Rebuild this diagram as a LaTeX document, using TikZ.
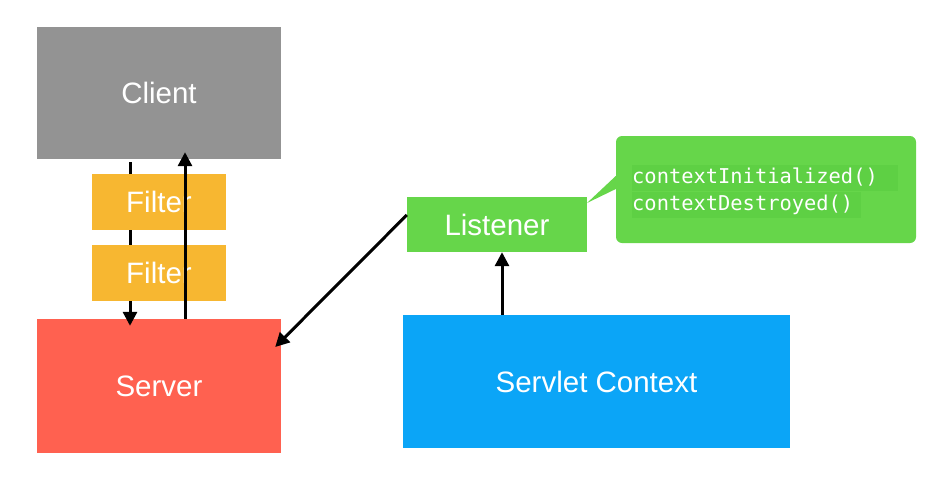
\documentclass[tikz,border=0pt]{standalone}
\usepackage{fontspec}
\setmainfont{Liberation Sans}
\newfontfamily\codefont{DejaVu Sans Mono}
\usetikzlibrary{arrows.meta}
\definecolor{gris}{HTML}{939393}
\definecolor{orange}{HTML}{F7B731}
\definecolor{rouge}{HTML}{FF6150}
\definecolor{vert}{HTML}{66D64A}
\definecolor{vertfonce}{HTML}{5ED044}
\definecolor{bleu}{HTML}{0BA5F7}
\tikzset{
  boite/.style={fill=#1, text=white, inner sep=0pt, font=\fontsize{29.5}{33}\selectfont},
  fleche/.style={line width=3pt, -{Triangle[length=14pt,width=14pt]}},
  code/.style={fill=vertfonce, text=white, inner sep=0pt, anchor=west,
    text height=19pt, text depth=7pt, font=\codefont\fontsize{20.4}{24}\selectfont}
}
\begin{document}
\begin{tikzpicture}[x=1pt,y=-1pt]
   % Cadre de l'image
   \useasboundingbox (0,0) rectangle (952,485);

   % Client et serveur
   \node[boite=gris, minimum width=244pt, minimum height=132pt] (client) at (159,93) {Client};
   \node[boite=rouge, minimum width=244pt, minimum height=134pt] (server) at (159,386) {Server};

   % Requete (sous les filtres)
   \draw[fleche, shorten <=3pt, shorten >=-7pt] ([xshift=-29pt]client.south) -- ([xshift=-29pt]server.north);

   % Filtres
   \node[boite=orange, minimum width=134pt, minimum height=56pt] (filter1) at (159,202) {Filter};
   \node[boite=orange, minimum width=134pt, minimum height=56pt] (filter2) at (159,273) {Filter};

   % Reponse
   \draw[fleche, shorten >=-7pt] ([xshift=26pt]server.north) -- ([xshift=26pt]client.south);

   % Listener et contexte
   \node[boite=vert, minimum width=180pt, minimum height=55pt] (listener) at (497,224.5) {Listener};
   \node[boite=bleu, minimum width=387pt, minimum height=133pt] (servlet) at (596.5,381.5) {Servlet Context};

   % Bulle des methodes
   \node[fill=vert, rounded corners=6pt, minimum width=300pt, minimum height=107pt, inner sep=0pt] (bulle) at (766,189.5) {};
   \coordinate (pointe) at (587,203);
   \fill[vert] ([yshift=0.5pt]bulle.west) ++(1,-14) -- (pointe) -- ([yshift=0.5pt]bulle.west) ++(1,13) -- cycle;
   \node[code] (init) at (632,177.5) {\makebox[266pt][l]{contextInitialized()}};
   \node[code] (destroy) at (632,204.5) {\makebox[229pt][l]{contextDestroyed()}};

   % Fleches du listener
   \draw[fleche] ([yshift=9.5pt]listener.west) -- ([xshift=-6pt,yshift=39pt]server.east);
   \draw[fleche] ([xshift=-94.5pt]servlet.north) -- ([xshift=5pt]listener.south);
\end{tikzpicture}
\end{document}
